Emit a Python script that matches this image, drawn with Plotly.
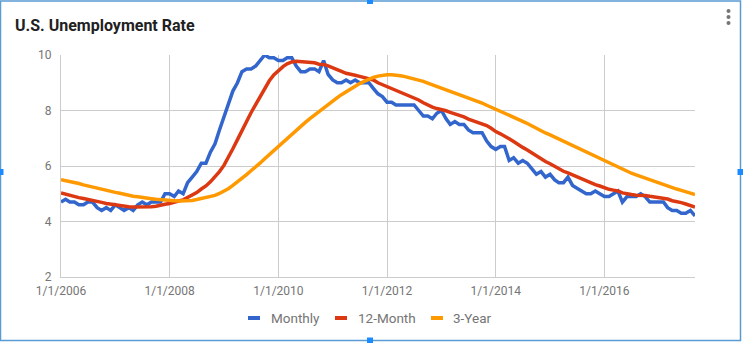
import pandas as pd
import plotly.graph_objects as go

# ---------------- data ----------------
start_month = "2006-01-01"
n_months = 141  # Jan 2006 .. Sep 2017

monthly = [
    4.7, 4.8, 4.7, 4.7, 4.6, 4.6, 4.7, 4.7, 4.5, 4.4, 4.5, 4.4,
    4.6, 4.5, 4.4, 4.5, 4.4, 4.6, 4.7, 4.6, 4.7, 4.7, 4.7, 5.0,
    5.0, 4.9, 5.1, 5.0, 5.4, 5.6, 5.8, 6.1, 6.1, 6.5, 6.8, 7.3,
    7.8, 8.3, 8.7, 9.0, 9.4, 9.5, 9.5, 9.6, 9.8, 10.0, 9.9, 9.9,
    9.8, 9.8, 9.9, 9.9, 9.6, 9.4, 9.4, 9.5, 9.5, 9.4, 9.8, 9.3,
    9.1, 9.0, 9.0, 9.1, 9.0, 9.1, 9.0, 9.0, 9.0, 8.8, 8.6, 8.5,
    8.3, 8.3, 8.2, 8.2, 8.2, 8.2, 8.2, 8.0, 7.8, 7.8, 7.7, 7.9,
    8.0, 7.7, 7.5, 7.6, 7.5, 7.5, 7.3, 7.2, 7.2, 7.2, 6.9, 6.7,
    6.6, 6.7, 6.7, 6.2, 6.3, 6.1, 6.2, 6.1, 5.9, 5.7, 5.8, 5.6,
    5.7, 5.5, 5.4, 5.4, 5.6, 5.3, 5.2, 5.1, 5.0, 5.0, 5.1, 5.0,
    4.9, 4.9, 5.0, 5.1, 4.7, 4.9, 4.9, 4.9, 5.0, 4.9, 4.7, 4.7,
    4.7, 4.7, 4.5, 4.4, 4.4, 4.3, 4.3, 4.4, 4.2,
]

month12 = [
    5.03, 4.98, 4.94, 4.90, 4.86, 4.83, 4.80, 4.78, 4.74, 4.69, 4.65, 4.61,
    4.60, 4.58, 4.55, 4.53, 4.52, 4.52, 4.52, 4.51, 4.53, 4.55, 4.57, 4.62,
    4.65, 4.68, 4.74, 4.78, 4.87, 4.95, 5.04, 5.17, 5.28, 5.43, 5.61, 5.80,
    6.03, 6.32, 6.62, 6.95, 7.28, 7.61, 7.92, 8.21, 8.52, 8.81, 9.07, 9.28,
    9.45, 9.58, 9.68, 9.75, 9.77, 9.76, 9.75, 9.74, 9.72, 9.67, 9.66, 9.61,
    9.55, 9.48, 9.41, 9.34, 9.29, 9.27, 9.23, 9.19, 9.15, 9.10, 9.00, 8.93,
    8.87, 8.81, 8.74, 8.67, 8.60, 8.53, 8.46, 8.38, 8.28, 8.19, 8.12, 8.07,
    8.04, 7.99, 7.93, 7.88, 7.83, 7.77, 7.69, 7.63, 7.58, 7.53, 7.46, 7.36,
    7.24, 7.16, 7.09, 6.98, 6.88, 6.76, 6.67, 6.58, 6.47, 6.34, 6.25, 6.16,
    6.08, 5.98, 5.88, 5.81, 5.75, 5.68, 5.60, 5.52, 5.44, 5.38, 5.33, 5.28,
    5.21, 5.16, 5.13, 5.10, 5.03, 4.99, 4.97, 4.95, 4.95, 4.94, 4.91, 4.88,
    4.87, 4.85, 4.81, 4.75, 4.73, 4.68, 4.63, 4.58, 4.52,
]

year3 = [
    5.51, 5.48, 5.44, 5.41, 5.37, 5.32, 5.28, 5.24, 5.19, 5.15, 5.11, 5.08,
    5.05, 5.02, 4.98, 4.95, 4.91, 4.89, 4.86, 4.84, 4.82, 4.80, 4.78, 4.77,
    4.76, 4.75, 4.74, 4.74, 4.75, 4.76, 4.79, 4.82, 4.85, 4.89, 4.94, 5.01,
    5.09, 5.19, 5.30, 5.42, 5.56, 5.69, 5.83, 5.96, 6.11, 6.26, 6.41, 6.57,
    6.71, 6.86, 7.01, 7.16, 7.31, 7.44, 7.57, 7.71, 7.84, 7.97, 8.11, 8.23,
    8.34, 8.46, 8.57, 8.68, 8.78, 8.88, 8.97, 9.05, 9.13, 9.19, 9.24, 9.28,
    9.29, 9.29, 9.28, 9.25, 9.22, 9.18, 9.15, 9.10, 9.05, 8.99, 8.93, 8.87,
    8.82, 8.76, 8.69, 8.63, 8.57, 8.52, 8.46, 8.40, 8.33, 8.27, 8.19, 8.12,
    8.05, 7.99, 7.92, 7.84, 7.77, 7.68, 7.61, 7.53, 7.44, 7.35, 7.28, 7.19,
    7.12, 7.04, 6.97, 6.89, 6.82, 6.74, 6.65, 6.57, 6.49, 6.42, 6.34, 6.26,
    6.18, 6.10, 6.03, 5.96, 5.88, 5.81, 5.74, 5.68, 5.62, 5.56, 5.49, 5.44,
    5.39, 5.33, 5.27, 5.22, 5.17, 5.12, 5.06, 5.02, 4.97,
]

series_names = ["Monthly", "12-Month", "3-Year"]
series_colors = ["#3366cc", "#dc3912", "#ff9900"]
y_ticks = [2, 4, 6, 8, 10]
x_tick_dates = ["2006-01-01", "2008-01-01", "2010-01-01", "2012-01-01", "2014-01-01", "2016-01-01"]
x_tick_labels = ["1/1/2006", "1/1/2008", "1/1/2010", "1/1/2012", "1/1/2014", "1/1/2016"]
title_text = "U.S. Unemployment Rate"

dates = pd.date_range(start_month, periods=n_months, freq="MS")

# ---------------- layout geometry (pixels) ----------------
W, H = 743, 343
L, R, T, B = 61, 695, 55, 277
pw, ph = R - L, B - T


def px(x):
    return (x - L) / pw


def py(y):
    return (B - y) / ph


fig = go.Figure()
for name, vals, col in zip(series_names, [monthly, month12, year3], series_colors):
    fig.add_trace(go.Scatter(
        x=dates, y=vals, mode="lines", name=name,
        line=dict(color=col, width=3.5), showlegend=False,
    ))

fig.update_layout(
    width=W, height=H,
    margin=dict(l=L, r=W - R, t=T, b=H - B, pad=0),
    paper_bgcolor="white", plot_bgcolor="white",
    font=dict(family="Roboto", color="#757575", size=12),
    title=dict(text="<b>" + title_text + "</b>", x=15 / W, xref="container", xanchor="left",
               y=1 - 25 / H, yref="container", yanchor="middle",
               font=dict(family="Roboto", size=16, color="#212121")),
    xaxis=dict(range=[dates[0], dates[-1]], tickvals=x_tick_dates, ticktext=x_tick_labels,
               showgrid=True, gridcolor="#cccccc", gridwidth=1,
               showline=True, linecolor="#cccccc", linewidth=1,
               zeroline=False, ticks="", ticklabelstandoff=3,
               tickfont=dict(family="Roboto", size=12, color="#757575")),
    yaxis=dict(range=[2, 10], tickvals=y_ticks,
               showgrid=True, gridcolor="#cccccc", gridwidth=1,
               showline=True, linecolor="#cccccc", linewidth=1,
               zeroline=False, ticks="", ticklabelstandoff=6,
               tickfont=dict(family="Roboto", size=12, color="#757575")),
    showlegend=False,
)

# manual legend
legend_items = [(248, 269), (335, 356), (431, 451)]
ly = 318
for (dx, tx), name, col in zip(legend_items, series_names, series_colors):
    fig.add_shape(type="line", xref="paper", yref="paper",
                  x0=px(dx), x1=px(dx + 12), y0=py(ly), y1=py(ly),
                  line=dict(color=col, width=4))
    fig.add_annotation(text=name, xref="paper", yref="paper", x=px(tx), y=py(ly),
                       xanchor="left", yanchor="middle", showarrow=False,
                       font=dict(family="Roboto", size=13.5, color="#757575"))

# frame (selected-card look)
frame_col = "#5a9bd4"
fig.add_shape(type="rect", xref="paper", yref="paper",
              x0=px(0.5), x1=px(740.5), y0=py(1), y1=py(340.5),
              line=dict(color=frame_col, width=1.5), layer="above")
for hx, hy in [(370, 1), (370, 340.5), (740.5, 172), (0.5, 172)]:
    fig.add_shape(type="rect", xref="paper", yref="paper",
                  x0=px(hx - 3), x1=px(hx + 3), y0=py(hy - 3), y1=py(hy + 3),
                  line=dict(width=0), fillcolor="#1a8cff", layer="above")

# kebab menu dots
for dy in [11, 17, 23]:
    fig.add_shape(type="circle", xref="paper", yref="paper",
                  x0=px(726.5), x1=px(730.5), y0=py(dy - 2), y1=py(dy + 2),
                  line=dict(width=0), fillcolor="#757575")

fig.write_html("out.html")
